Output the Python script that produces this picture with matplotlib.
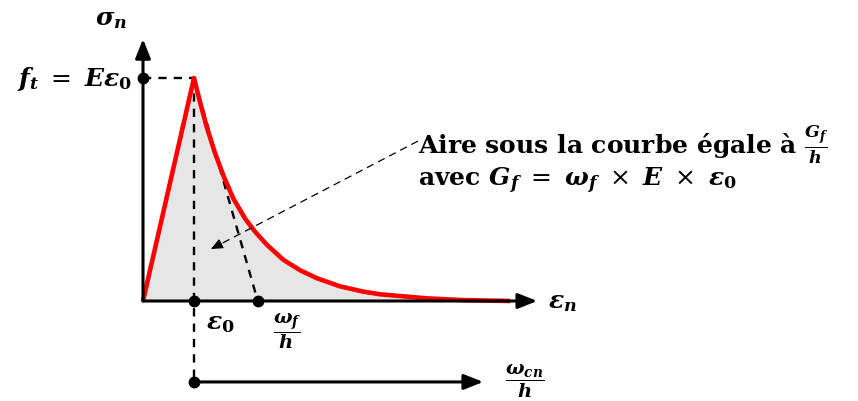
import matplotlib
matplotlib.use("Agg")
import matplotlib.pyplot as plt

plt.rcParams['mathtext.fontset'] = 'dejavuserif'
plt.rcParams['font.family'] = 'DejaVu Serif'

# strain / stress values of the softening law (eps normalised by eps0, sigma by ft)
eps0 = 1.0
ft = 1.0
wf_h = 2.25
curve_x = [0.0, 1.0, 1.12, 1.25, 1.41, 1.58, 1.77, 2.0, 2.2, 2.43, 2.75, 3.08,
           3.41, 3.86, 4.32, 4.65, 5.56, 6.28, 7.2]
curve_y = [0.0, 1.0, 0.89, 0.78, 0.665, 0.56, 0.46, 0.37, 0.31, 0.252, 0.185,
           0.138, 0.102, 0.066, 0.042, 0.030, 0.012, 0.004, 0.0]
x_axis_end = 7.73
y_axis_end = 1.175
crack_axis_y = -0.363
crack_axis_end = 6.67

fig = plt.figure(figsize=(8.58, 4.02), dpi=100)
ax = fig.add_axes([0, 0, 1, 1])
ax.set_xlim(-143 / 51, (858 - 143) / 51)
ax.set_ylim(-100 / 223, 302 / 223)
ax.axis('off')

# area under the curve
ax.fill_between(curve_x, curve_y, 0, color='#e6e6e6', lw=0, zorder=1)

# dashed construction lines
dash = dict(color='black', lw=1.7, ls=(0, (3.5, 3)), zorder=2)
ax.plot([0, eps0], [ft, ft], **dash)
ax.plot([eps0, eps0], [ft, crack_axis_y], **dash)
ax.plot([eps0, wf_h], [ft, 0], **dash)

# softening curve
ax.plot(curve_x, curve_y, color='#ff0000', lw=3.3, solid_joinstyle='round',
        solid_capstyle='butt', zorder=3)

# axes with arrow heads
head = dict(arrowstyle='-|>,head_length=0.58,head_width=0.23', color='black',
            lw=2.2, mutation_scale=20, shrinkA=0, shrinkB=0)
ax.annotate('', xy=(x_axis_end, 0), xytext=(0, 0), arrowprops=head, zorder=4)
ax.annotate('', xy=(0, y_axis_end), xytext=(0, 0), arrowprops=head, zorder=4)
ax.annotate('', xy=(crack_axis_end, crack_axis_y), xytext=(eps0, crack_axis_y),
            arrowprops=head, zorder=4)

# points
ax.plot([0, eps0, wf_h, eps0], [ft, 0, 0, crack_axis_y], 'o', color='black',
        ms=7.5, zorder=5)

# pointer to the shaded area
tail = (5.39, 0.717)
tip = (1.333, 0.233)
ax.plot([tail[0], tip[0]], [tail[1], tip[1]], color='black', lw=0.9,
        ls=(0, (6, 4)), zorder=4)
ax.annotate('', xy=tip, xytext=(tip[0] + 0.05 * (tail[0] - tip[0]),
                                tip[1] + 0.05 * (tail[1] - tip[1])),
            arrowprops=dict(arrowstyle='-|>,head_length=0.5,head_width=0.22',
                            color='black', lw=0.9, mutation_scale=14,
                            shrinkA=0, shrinkB=0), zorder=4)

# labels
bold = dict(fontsize=18, fontweight='bold')
frac = dict(fontsize=14, fontweight='bold')
ax.text(-0.62, 1.27, r'$\mathbfit{\sigma_n}$', ha='center', va='center', **bold)
ax.text(-0.22, ft, r'$\mathbfit{f_t}\ =\ \mathbfit{E}\mathbfit{\varepsilon}_{\mathbf{0}}$',
        ha='right', va='center', **bold)
ax.text(7.95, 0, r'$\mathbfit{\varepsilon_n}$', ha='left', va='center', **bold)
ax.text(1.23, -0.095, r'$\mathbfit{\varepsilon}_{\mathbf{0}}$', ha='left',
        va='center', **bold)
ax.text(2.83, -0.13, r'$\dfrac{\mathbfit{\omega_f}}{\mathbfit{h}}$', ha='center',
        va='center', **frac)
ax.text(7.49, -0.355, r'$\dfrac{\mathbfit{\omega_{cn}}}{\mathbfit{h}}$',
        ha='center', va='center', **frac)
ax.text(5.39, 0.668, r'Aire sous la courbe égale à $\frac{\mathbfit{G_f}}{\mathbfit{h}}$',
        ha='left', va='baseline', **bold)
ax.text(5.39, 0.52, r'avec $\mathbfit{G_f}\ =\ \mathbfit{\omega_f}\ \times\ \mathbfit{E}'
        r'\ \times\ \mathbfit{\varepsilon}_{\mathbf{0}}$',
        ha='left', va='baseline', **bold)

fig.savefig('out.png', dpi=100)
